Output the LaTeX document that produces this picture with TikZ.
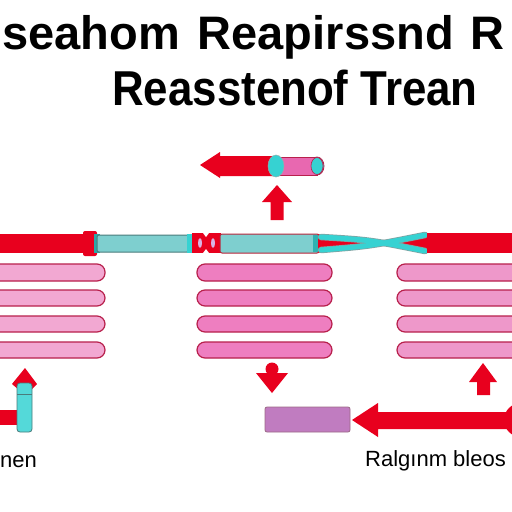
\documentclass[tikz,border=0pt]{standalone}
\usepackage{fontspec}
\setmainfont{Liberation Sans}
\usetikzlibrary{shapes.geometric}
\definecolor{arrred}{HTML}{E8001E}
\definecolor{tube}{HTML}{7ECFCF}
\definecolor{tubeline}{HTML}{4A7C7C}
\definecolor{teal}{HTML}{36D2D2}
\definecolor{barline}{HTML}{B8204C}
\definecolor{pinkA}{HTML}{F2A8D2}
\definecolor{pinkB}{HTML}{EE7EC0}
\definecolor{pinkC}{HTML}{EE98CA}
\definecolor{cylpink}{HTML}{E868B0}
\definecolor{purp}{HTML}{C07CC0}
\definecolor{purpline}{HTML}{9C6A86}
\definecolor{lav}{HTML}{D8B4E4}
\tikzset{
  redfill/.style={fill=arrred, draw=none},
  tubebox/.style={fill=tube, draw=tubeline, line width=1pt, rounded corners=2pt},
  pinkbar/.style={draw=barline, line width=1.2pt, rounded corners=8pt},
  strand/.style={draw=teal, line width=5pt, line cap=round},
  strandedge/.style={draw=tubeline!70, line width=6.5pt, line cap=round},
  titletext/.style={font=\bfseries\fontsize{47}{50}\selectfont, inner sep=0pt, anchor=base west},
  labeltext/.style={font=\fontsize{22}{24}\selectfont, inner sep=0pt, anchor=base west},
  endcap/.style={ellipse, fill=teal, inner sep=0pt}
}
\begin{document}
\begin{tikzpicture}[x=1pt,y=-1pt]
\useasboundingbox (0,0) rectangle (512,512);
\fill[white] (0,0) rectangle (512,512);
\clip (0,0) rectangle (512,512);

% titles
\node[titletext] (t1) at (2,49) {seahom\hspace{18pt}Reapirssnd\hspace{17pt}R};
\node[titletext, font=\bfseries\fontsize{49}{52}\selectfont] (t2) at (112,105) {\scalebox{0.895}[1]{Reasstenof Trean}};

% top left arrow
\path[redfill] (200,165) -- (220,152) -- (220,156) -- (278,156) -- (278,176) -- (220,176) -- (220,178) -- cycle;
% cylinder
\node[endcap, draw=barline, line width=0.8pt, minimum width=14pt, minimum height=18pt] (cylR) at (317,166) {};
\path[fill=cylpink, draw=barline, line width=0.8pt] (276,157) rectangle (317,175);
\node[endcap, draw=barline, line width=0.6pt, minimum width=12pt, minimum height=17pt] (cylR2) at (317,166) {};
\node[endcap, draw=tubeline!60, line width=0.5pt, minimum width=16pt, minimum height=22pt] (cylL) at (276,166) {};
% up arrow under cylinder
\path[redfill] (277,185) -- (292,202) -- (283.5,202) -- (283.5,220) -- (270.5,220) -- (270.5,202) -- (262,202) -- cycle;

% main strand
\path[redfill] (0,234) rectangle (86,253);
\path[redfill, rounded corners=2pt] (83,231) rectangle (97,256);
\path[fill=teal!80!black] (94,234) rectangle (100,253);
\path[tubebox] (97,235) rectangle (189,252);
\path[fill=teal] (187,234) rectangle (193,253);
\path[redfill] (192,233) rectangle (221,253);
\fill[white] (203,233) -- (209,233) -- (206,237) -- cycle;
\fill[white] (203,253) -- (209,253) -- (206,249) -- cycle;
\fill[lav] (200,243) ellipse[x radius=2, y radius=5];
\fill[lav] (213,243) ellipse[x radius=2, y radius=5];
\path[tubebox, draw=arrred!70!tubeline] (220,234) rectangle (319,253);
\path[fill=teal!85!black] (313,235) rectangle (319,252);
% X crossing
\path[redfill] (318,234) -- (371,243) -- (318,253) -- cycle;
\path[redfill] (428,233) -- (371,243) -- (428,253) -- cycle;
\draw[strandedge] (321,237) .. controls (370,240) .. (425,251);
\draw[strandedge] (321,250) .. controls (370,246) .. (425,235);
\draw[strand] (321,237) .. controls (370,240) .. (425,251);
\draw[strand] (321,250) .. controls (370,246) .. (425,235);
\path[redfill] (427,233) rectangle (512,253);

% pink bars
\foreach \ya/\yb in {264/281, 290/306, 316/332, 342/358}{
  \path[pinkbar, fill=pinkA] (-12,\ya) rectangle (105,\yb);
  \path[pinkbar, fill=pinkB] (197,\ya) rectangle (332,\yb);
  \path[pinkbar, fill=pinkC] (397,\ya) rectangle (525,\yb);
}

% bottom left
\path[redfill] (0,410) rectangle (18,425);
\path[redfill] (25,368) -- (37,384) -- (31,390) -- (19,390) -- (12,384) -- cycle;
\path[fill=teal!85!white, draw=tubeline, line width=0.8pt, rounded corners=3pt] (17,383) rectangle (32,432);
\draw[tubeline, line width=0.8pt] (17,394) -- (32,394);
\node[labeltext] (lblL) at (0,467) {nen};

% bottom middle
\fill[arrred] (272,369) circle[radius=6.5];
\path[redfill] (256,373) -- (288,373) -- (272,393) -- cycle;
\path[fill=purp, draw=purpline, line width=0.8pt, rounded corners=2pt] (265,407) rectangle (350,432);
\path[redfill] (352,420) -- (378,403) -- (378,412) -- (512,412) -- (512,429) -- (378,429) -- (378,437) -- cycle;
\fill[arrred] (521,420) circle[radius=17];

% bottom right
\path[redfill] (483,363) -- (497,382) -- (490,382) -- (490,395) -- (477,395) -- (477,382) -- (469,382) -- cycle;
\node[labeltext] (lblR) at (365,466) {Ralgınm bleos};
\end{tikzpicture}
\end{document}
